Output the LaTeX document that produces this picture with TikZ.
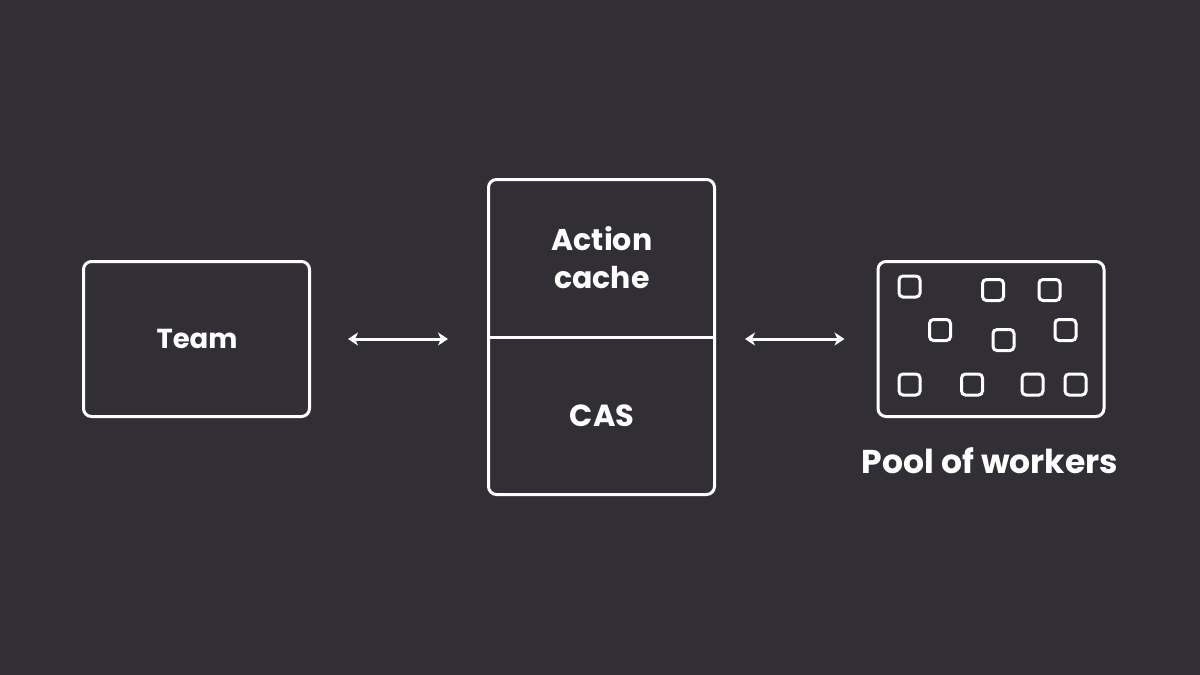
\documentclass[tikz,border=0pt]{standalone}
\usepackage{fontspec}
\setmainfont{Poppins}
\usetikzlibrary{arrows.meta}

\definecolor{bgdark}{RGB}{50,46,54}

\tikzset{
  box/.style={draw=white, line width=3pt, rounded corners=8pt,
              minimum width=226pt, minimum height=155pt},
  worker/.style={draw=white, line width=3pt, rounded corners=4pt,
                 minimum size=21pt, inner sep=0pt},
  label/.style={text=white, font=\fontsize{#1}{38}\selectfont\bfseries, align=center},
  label/.default=28,
  link/.style={white, line width=3pt,
               {Stealth[length=10pt,width=13pt,inset=3pt]}-{Stealth[length=10pt,width=13pt,inset=3pt]}},
}

\begin{document}
\begin{tikzpicture}[x=1pt,y=-1pt]
  \fill[bgdark] (0,0) rectangle (1200,675);
  \useasboundingbox (0,0) rectangle (1200,675);

  \node[box] (team) at (196.5,339) {};
  \node[label=27.5] (teamtext) at (197,339) {Team};

  \node[box, minimum height=315pt] (store) at (601.5,337) {};
  \node[label=30] (action) at (602,258) {Action\\cache};
  \node[label=30.5] (cas) at (602,416) {CAS};

  \node[box] (pool) at (991,339) {};
  \node[label=33] (pooltext) at (990,461) {Pool of workers};

  % workers
  \foreach \x/\y [count=\i] in {909.5/286.5, 993/290, 1049.5/290,
                                940/330, 1003.5/340, 1065.5/330,
                                909.5/384.5, 972/384.5, 1032.5/384.5, 1075.5/384.5}
    \node[worker] (w\i) at (\x,\y) {};

  \draw[white, line width=3pt] (store.west) -- (store.east);

  \draw[link, shorten <=37pt, shorten >=39pt] (team.east) -- (team.east -| store.west);
  \draw[link, shorten <=29pt, shorten >=32pt] (store.east |- pool.west) -- (pool.west);
\end{tikzpicture}
\end{document}
